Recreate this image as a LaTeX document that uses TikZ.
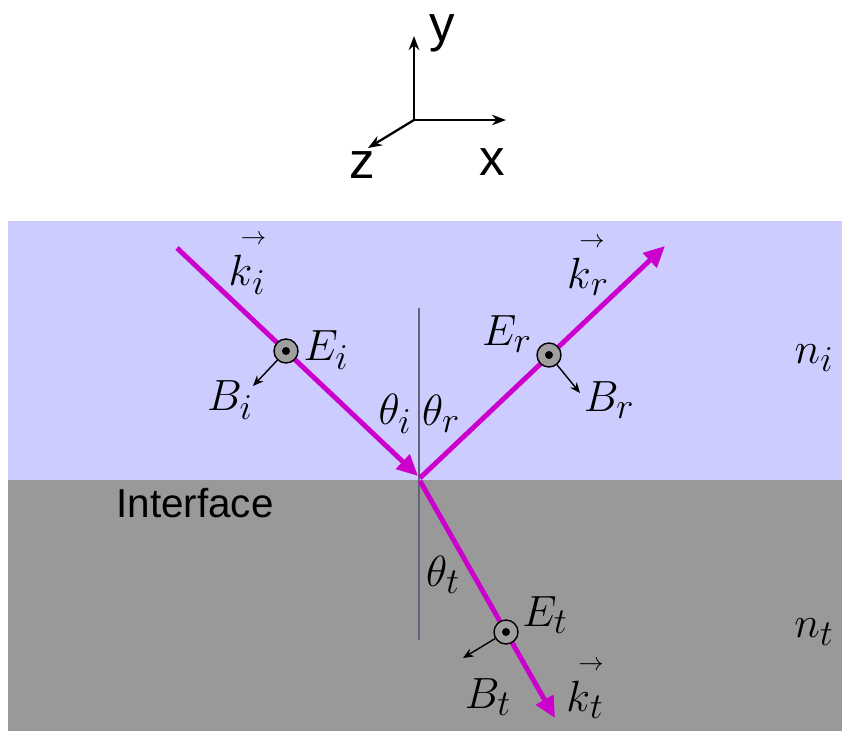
\documentclass[tikz,border=0pt]{standalone}
\usepackage{fontspec}
\setsansfont{Liberation Sans}
\usepackage{amsmath,mathtools}
\usetikzlibrary{arrows.meta}
\definecolor{medium}{RGB}{204,204,255}
\definecolor{slab}{RGB}{153,153,153}
\definecolor{beam}{RGB}{204,0,204}
\definecolor{normalc}{RGB}{100,100,120}
\newcommand{\wavevec}[1]{{\mathrlap{\mkern5mu\raisebox{0.78em}{$\scriptscriptstyle\rightarrow$}}k}_{#1}}

\begin{document}
\begin{tikzpicture}[x=0.02cm,y=-0.02cm,
    ray/.style={beam,line width=2.8pt,-{Triangle[length=12pt,width=11pt]}},
    bvec/.style={black,line width=0.8pt,-{Stealth[length=6pt,width=5pt]}},
    axis/.style={black,line width=1.3pt,-{Stealth[length=8pt,width=6pt]}},
    efield/.style={circle,draw=black,fill=gray!75,minimum size=0.48cm,inner sep=0pt,line width=0.8pt},
    sym/.style={font=\fontsize{30}{33}\selectfont,inner sep=0pt},
    word/.style={font=\sffamily\fontsize{29}{32}\selectfont,inner sep=0pt}]
    \useasboundingbox (0,0) rectangle (842,731);
    % media
    \fill[medium] (8,221) rectangle (842,480);
    \fill[slab] (8,480) rectangle (842,731);
    % axes
    \coordinate (o) at (414,120);
    \coordinate (ay) at (414,36);
    \coordinate (ax) at (506,120);
    \coordinate (az) at (368,148);
    \draw[axis] (o) -- (ay);
    \draw[axis] (o) -- (ax);
    \draw[axis] (o) -- (az);
    \node[word] (ly) at (442,33) {y};
    \node[word] (lx) at (492,162) {x};
    \node[word] (lz) at (362,165) {z};
    % normal
    \coordinate (ntop) at (419,308);
    \coordinate (nbot) at (419,640);
    \draw[normalc,line width=1pt] (ntop) -- (nbot);
    % rays
    \coordinate (ki) at (177,248);
    \coordinate (O) at (418,476);
    \coordinate (Or) at (420,478);
    \coordinate (Ot) at (420,481);
    \coordinate (kr) at (665,246);
    \coordinate (kt) at (555,718);
    \draw[ray] (ki) -- (O);
    \draw[ray] (Or) -- (kr);
    \draw[ray] (Ot) -- (kt);
    % fields
    \node[efield] (Ei) at (286,351) {};
    \node[efield] (Er) at (549,355) {};
    \node[efield] (Et) at (506,632) {};
    \fill (Ei.center) circle (4);
    \fill (Er.center) circle (4);
    \fill (Et.center) circle (4);
    \coordinate (bi) at (253,386);
    \coordinate (br) at (580,393);
    \coordinate (bt) at (463,658);
    \draw[bvec] (Ei) -- (bi);
    \draw[bvec] (Er) -- (br);
    \draw[bvec] (Et) -- (bt);
    % labels
    \node[sym] (lki) at (247,265) {$\wavevec{i}$};
    \node[sym] (lkr) at (588,267) {$\wavevec{r}$};
    \node[sym] (lkt) at (585,690) {$\wavevec{t}$};
    \node[sym] (lEi) at (326,350) {$E_i$};
    \node[sym] (lEr) at (507,334) {$E_r$};
    \node[sym] (lEt) at (545,615) {$E_t$};
    \node[sym] (lBi) at (230,400) {$B_i$};
    \node[sym] (lBr) at (609,400) {$B_r$};
    \node[sym] (lBt) at (488,697) {$B_t$};
    \node[sym] (lti) at (395,414) {$\theta_i$};
    \node[sym] (ltr) at (441,414) {$\theta_r$};
    \node[sym] (ltt) at (443,575) {$\theta_t$};
    \node[sym] (lni) at (814,358) {$n_i$};
    \node[sym] (lnt) at (814,632) {$n_t$};
    \node[word,font=\sffamily\fontsize{23}{26}\selectfont] (lif) at (195,503) {Interface};
\end{tikzpicture}
\end{document}
